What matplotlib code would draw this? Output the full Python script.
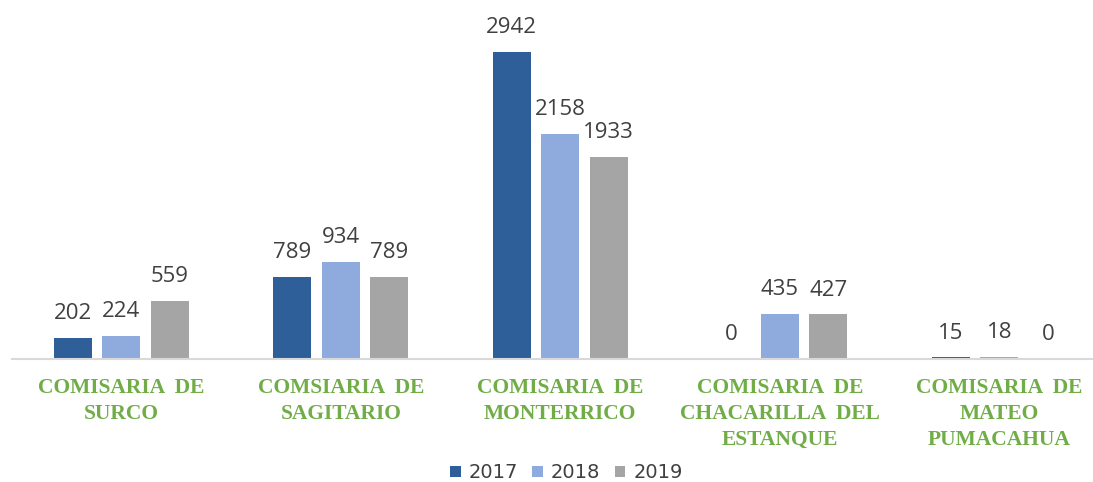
import matplotlib.pyplot as plt
import numpy as np

categories = ["COMISARIA  DE\nSURCO", "COMSIARIA  DE\nSAGITARIO", "COMISARIA  DE\nMONTERRICO",
              "COMISARIA  DE\nCHACARILLA  DEL\nESTANQUE", "COMISARIA  DE\nMATEO\nPUMACAHUA"]
years = ["2017", "2018", "2019"]
v2017 = [202, 789, 2942, 0, 15]
v2018 = [224, 934, 2158, 435, 18]
v2019 = [559, 789, 1933, 427, 0]
colors = ["#2E5F99", "#8FAADC", "#A5A5A5"]

W, H = 1093, 482
fig = plt.figure(figsize=(W/100, H/100), dpi=100)
left = 11.5
axw = 5 * 219.5
bottom_px = 359
ymax = 3300
pxper = 307 / 2942
axh = ymax * pxper
ax = fig.add_axes([left / W, (H - bottom_px) / H, axw / W, axh / H])

x = np.arange(len(categories))
bw = 38 / 219.5
pitch = 48.5 / 219.5
series = [v2017, v2018, v2019]
for i, (vals, c, lab) in enumerate(zip(series, colors, years)):
    pos = x + (i - 1) * pitch
    ax.bar(pos, vals, width=bw, color=c, label=lab, zorder=2)
    for p, v in zip(pos, vals):
        ax.annotate(str(v), (p, v), xytext=(0, 10), textcoords="offset points",
                    ha="center", va="bottom", fontsize=16, color="#404040",
                    family="Open Sans")

ax.set_xlim(-0.5, len(categories) - 0.5)
ax.set_ylim(0, ymax)
ax.set_yticks([])
for s in ["top", "right", "left"]:
    ax.spines[s].set_visible(False)
ax.spines["bottom"].set_color("#D9D9D9")
ax.spines["bottom"].set_linewidth(1.5)
ax.set_xticks(x)
ax.set_xticklabels(categories, fontsize=15.5, color="#70AD47", fontweight="bold",
                   family="Liberation Serif", linespacing=1.38)
ax.tick_params(axis="x", length=0, pad=14)

leg = fig.legend(loc="center", bbox_to_anchor=(0.518, 1 - 473 / H), ncol=3, frameon=False,
                 fontsize=14, handlelength=0.55, handleheight=0.55, handletextpad=0.4,
                 columnspacing=0.75)
for t in leg.get_texts():
    t.set_color("#404040")

fig.savefig("out.png", dpi=100)
